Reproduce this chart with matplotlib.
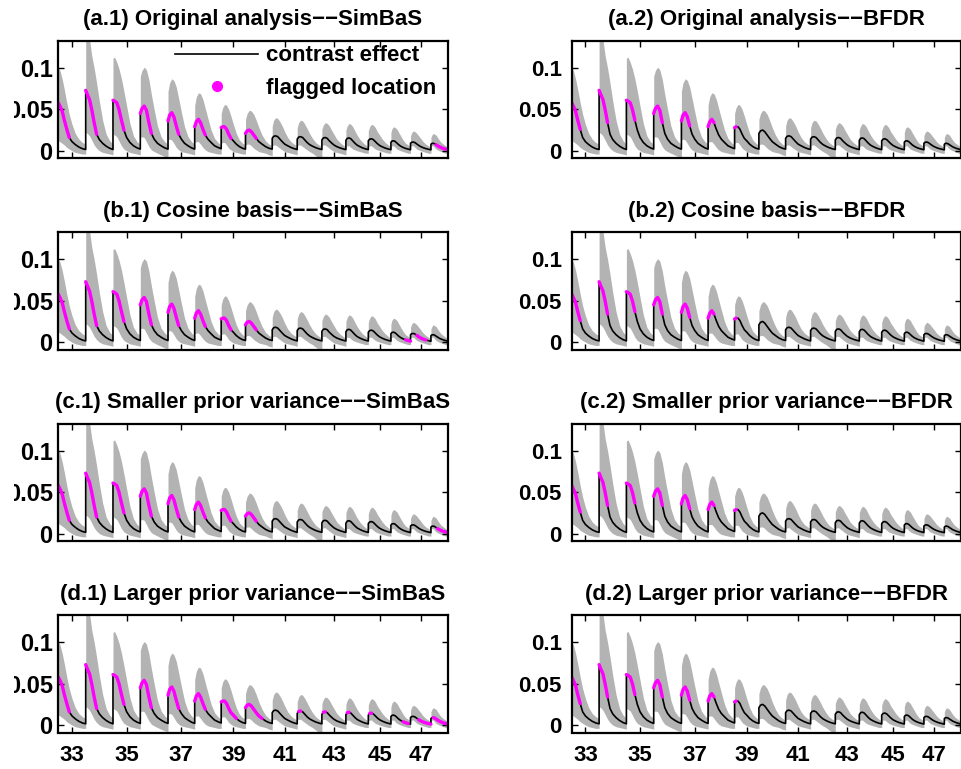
import numpy as np
import matplotlib
matplotlib.use("Agg")
import matplotlib.pyplot as plt
from matplotlib.lines import Line2D
from matplotlib.transforms import Bbox, TransformedBbox

plt.rcParams['font.family'] = ['Liberation Sans', 'DejaVu Sans']
plt.rcParams['font.weight'] = 'bold'

# segment (location) edges along the x axis, one segment per location 33..48
seg_edges = [0.0, 1.0, 1.996, 2.993, 4.004, 4.978, 5.945, 6.832, 7.807,
             8.719, 9.620, 10.496, 11.314, 12.139, 12.854, 13.599, 14.204]
tick_labels = ['33', '35', '37', '39', '41', '43', '45', '47']

# sample positions inside each segment (fraction of segment width)
frac = [0.0, 0.06, 0.14, 0.22, 0.31, 0.40, 0.50, 0.62, 0.75, 0.88, 1.0]

# posterior mean contrast effect, one row per segment
effect = [
    [0.058, 0.054, 0.048, 0.037, 0.026, 0.016, 0.011, 0.0075, 0.0045, 0.0025, 0.0015],
    [0.073, 0.068, 0.062, 0.050, 0.034, 0.020, 0.0135, 0.009, 0.0055, 0.003, 0.0015],
    [0.061, 0.060, 0.058, 0.050, 0.037, 0.025, 0.016, 0.010, 0.006, 0.0035, 0.002],
    [0.045, 0.051, 0.054, 0.049, 0.034, 0.021, 0.014, 0.009, 0.006, 0.0035, 0.002],
    [0.036, 0.043, 0.046, 0.041, 0.030, 0.020, 0.014, 0.009, 0.006, 0.0035, 0.002],
    [0.029, 0.035, 0.038, 0.034, 0.026, 0.019, 0.014, 0.010, 0.006, 0.004, 0.0025],
    [0.028, 0.029, 0.029, 0.026, 0.020, 0.015, 0.012, 0.008, 0.005, 0.003, 0.002],
    [0.021, 0.024, 0.025, 0.023, 0.019, 0.015, 0.011, 0.008, 0.005, 0.003, 0.002],
    [0.015, 0.0175, 0.018, 0.017, 0.014, 0.011, 0.008, 0.006, 0.004, 0.0025, 0.0015],
    [0.014, 0.0165, 0.017, 0.016, 0.013, 0.010, 0.0075, 0.0055, 0.0037, 0.0024, 0.0015],
    [0.013, 0.0155, 0.016, 0.015, 0.012, 0.0095, 0.007, 0.005, 0.0035, 0.0023, 0.0014],
    [0.0125, 0.015, 0.0155, 0.0145, 0.0118, 0.0092, 0.0068, 0.005, 0.0034, 0.0022, 0.0014],
    [0.012, 0.014, 0.0145, 0.0135, 0.011, 0.0086, 0.0064, 0.0047, 0.0032, 0.0021, 0.0013],
    [0.0102, 0.0118, 0.012, 0.0112, 0.0092, 0.0072, 0.0055, 0.004, 0.0028, 0.0019, 0.0012],
    [0.009, 0.0103, 0.0105, 0.0098, 0.0082, 0.0065, 0.005, 0.0037, 0.0026, 0.0018, 0.0011],
    [0.0078, 0.0088, 0.009, 0.0085, 0.0073, 0.006, 0.0048, 0.0037, 0.0027, 0.0019, 0.0012],
]

# upper limit of credible band
upper = [
    [0.100, 0.097, 0.087, 0.074, 0.058, 0.044, 0.032, 0.021, 0.014, 0.010, 0.008],
    [0.170, 0.155, 0.135, 0.115, 0.100, 0.082, 0.060, 0.037, 0.020, 0.012, 0.008],
    [0.112, 0.113, 0.107, 0.099, 0.087, 0.072, 0.054, 0.033, 0.018, 0.011, 0.008],
    [0.090, 0.097, 0.101, 0.098, 0.086, 0.068, 0.050, 0.030, 0.017, 0.011, 0.008],
    [0.072, 0.082, 0.087, 0.085, 0.077, 0.063, 0.047, 0.029, 0.017, 0.011, 0.008],
    [0.055, 0.065, 0.070, 0.069, 0.062, 0.051, 0.039, 0.025, 0.015, 0.010, 0.007],
    [0.045, 0.052, 0.056, 0.055, 0.050, 0.042, 0.032, 0.021, 0.013, 0.009, 0.007],
    [0.038, 0.045, 0.049, 0.048, 0.044, 0.037, 0.028, 0.019, 0.012, 0.008, 0.006],
    [0.030, 0.037, 0.040, 0.039, 0.035, 0.030, 0.023, 0.016, 0.011, 0.008, 0.006],
    [0.028, 0.034, 0.037, 0.036, 0.032, 0.027, 0.021, 0.015, 0.010, 0.007, 0.005],
    [0.026, 0.031, 0.034, 0.033, 0.030, 0.025, 0.020, 0.014, 0.010, 0.007, 0.005],
    [0.025, 0.030, 0.033, 0.032, 0.029, 0.024, 0.019, 0.014, 0.010, 0.007, 0.005],
    [0.024, 0.029, 0.032, 0.031, 0.028, 0.023, 0.019, 0.014, 0.010, 0.007, 0.005],
    [0.022, 0.027, 0.029, 0.028, 0.026, 0.022, 0.018, 0.013, 0.009, 0.007, 0.005],
    [0.018, 0.022, 0.024, 0.023, 0.021, 0.018, 0.015, 0.011, 0.008, 0.006, 0.004],
    [0.016, 0.019, 0.021, 0.020, 0.019, 0.016, 0.013, 0.010, 0.008, 0.006, 0.004],
]

# lower limit of credible band
lower = [
    [0.012, 0.011, 0.009, 0.007, 0.004, 0.002, 0.000, -0.002, -0.003, -0.004, -0.004],
    [0.022, 0.021, 0.018, 0.013, 0.007, 0.003, 0.000, -0.002, -0.003, -0.004, -0.005],
    [0.020, 0.019, 0.017, 0.012, 0.006, 0.002, 0.000, -0.002, -0.003, -0.004, -0.005],
    [0.016, 0.017, 0.016, 0.011, 0.005, 0.001, -0.001, -0.003, -0.005, -0.007, -0.008],
    [0.013, 0.014, 0.013, 0.009, 0.004, 0.001, -0.001, -0.002, -0.003, -0.004, -0.005],
    [0.010, 0.011, 0.011, 0.008, 0.004, 0.001, -0.001, -0.002, -0.003, -0.004, -0.004],
    [0.009, 0.010, 0.010, 0.007, 0.003, 0.001, -0.001, -0.002, -0.003, -0.004, -0.004],
    [0.007, 0.008, 0.008, 0.006, 0.003, 0.001, -0.001, -0.002, -0.003, -0.005, -0.006],
    [0.006, 0.007, 0.007, 0.005, 0.003, 0.001, -0.001, -0.002, -0.003, -0.004, -0.005],
    [0.006, 0.007, 0.007, 0.005, 0.003, 0.001, -0.001, -0.003, -0.006, -0.009, -0.012],
    [0.006, 0.007, 0.007, 0.005, 0.003, 0.001, -0.001, -0.002, -0.003, -0.004, -0.005],
    [0.005, 0.006, 0.006, 0.004, 0.002, 0.001, 0.000, -0.001, -0.002, -0.003, -0.003],
    [0.005, 0.006, 0.006, 0.004, 0.002, 0.001, 0.000, -0.001, -0.002, -0.003, -0.003],
    [0.005, 0.006, 0.006, 0.004, 0.002, 0.001, 0.000, -0.001, -0.002, -0.003, -0.003],
    [0.005, 0.006, 0.006, 0.004, 0.002, 0.001, 0.000, -0.001, -0.002, -0.003, -0.003],
    [0.005, 0.006, 0.006, 0.004, 0.002, 0.001, 0.000, -0.001, -0.002, -0.003, -0.003],
]

titles = [
    '(a.1) Original analysis\u2212\u2212SimBaS', '(a.2) Original analysis\u2212\u2212BFDR',
    '(b.1) Cosine basis\u2212\u2212SimBaS', '(b.2) Cosine basis\u2212\u2212BFDR',
    '(c.1) Smaller prior variance\u2212\u2212SimBaS', '(c.2) Smaller prior variance\u2212\u2212BFDR',
    '(d.1) Larger prior variance\u2212\u2212SimBaS', '(d.2) Larger prior variance\u2212\u2212BFDR',
]

# flagged locations: (segment, first sample, last sample)
simbas_base = [(0, 0, 5), (1, 0, 5), (2, 0, 5), (3, 0, 5), (4, 0, 5), (5, 0, 5), (6, 0, 5), (7, 0, 5)]
bfdr_base = [(0, 0, 4), (1, 0, 4), (2, 0, 4), (3, 0, 4), (4, 0, 4), (5, 0, 3), (6, 0, 1)]
flagged = [
    simbas_base + [(15, 4, 10)],
    bfdr_base,
    simbas_base + [(13, 8, 10), (14, 4, 8)],
    bfdr_base,
    simbas_base + [(15, 5, 10)],
    bfdr_base,
    [(0, 0, 5), (1, 0, 5), (2, 0, 5), (3, 0, 5), (4, 0, 5), (5, 0, 5), (6, 0, 7), (7, 0, 7),
     (9, 1, 2), (10, 1, 2), (11, 1, 2), (12, 1, 2), (13, 7, 9), (14, 5, 10), (15, 2, 10)],
    bfdr_base,
]

W, H = 961, 769
fig = plt.figure(figsize=(W / 100, H / 100), dpi=100)

col_left = [58.3, 571.7]
ax_w = 389.2
row_top = [40.7, 232.1, 423.5, 615.0]
ax_h = 117.5
fs = 16

edges = np.array(seg_edges)
fr = np.array(frac)


def seg_x(k):
    return edges[k] + fr * (edges[k + 1] - edges[k])


xs = np.concatenate([seg_x(k) for k in range(len(effect))])
ys = np.concatenate(effect)
ups = np.concatenate(upper)
los = np.concatenate(lower)
tick_pos = [(edges[k] + edges[k + 1]) / 2 for k in range(0, 16, 2)]

# the left column's y labels are cut off near the figure edge in the original
left_clip = TransformedBbox(Bbox([[13.5 / W, 0], [1, 1]]), fig.transFigure)

for i in range(8):
    r, c = divmod(i, 2)
    ax = fig.add_axes([col_left[c] / W, 1 - (row_top[r] + ax_h) / H, ax_w / W, ax_h / H])
    ax.fill_between(xs, los, ups, color='0.7', lw=0)
    ax.plot(xs, ys, color='black', lw=1.2)
    for (k, i0, i1) in flagged[i]:
        sx = seg_x(k)[i0:i1 + 1]
        sy = np.array(effect[k])[i0:i1 + 1]
        ax.plot(sx, sy, color='#ff00ff', lw=2.4, solid_capstyle='round')
    ax.set_xlim(edges[0], edges[-1])
    ax.set_ylim(-0.009, 0.133)
    ax.set_yticks([0, 0.05, 0.1])
    ax.set_yticklabels(['0', '0.05', '0.1'])
    ax.set_xticks(tick_pos)
    if r == 3:
        ax.set_xticklabels(tick_labels)
    else:
        ax.set_xticklabels([])
    ax.tick_params(direction='in', length=4, width=1, top=True, right=True,
                   labelsize=fs)
    ax.tick_params(axis='x', pad=9)
    if c == 0:
        ax.tick_params(axis='y', pad=4, labelsize=17)
        for lab in ax.get_yticklabels():
            lab.set_clip_box(left_clip)
            lab.set_clip_on(True)
    else:
        ax.tick_params(axis='y', pad=7)
    for sp in ax.spines.values():
        sp.set_linewidth(1.6)
    ax.set_title(titles[i], fontsize=fs, fontweight='bold', pad=11)

    if i == 0:
        handles = [Line2D([], [], color='black', lw=1.2),
                   Line2D([], [], color='#ff00ff', marker='o', ms=7, lw=0)]
        ax.legend(handles, ['contrast effect', 'flagged location'], loc='upper left',
                  bbox_to_anchor=(0.30, 0.96), frameon=False, fontsize=fs,
                  handlelength=3.75, handletextpad=0.35, labelspacing=0.5,
                  borderpad=0, borderaxespad=0)

fig.savefig('out.png', dpi=100)
